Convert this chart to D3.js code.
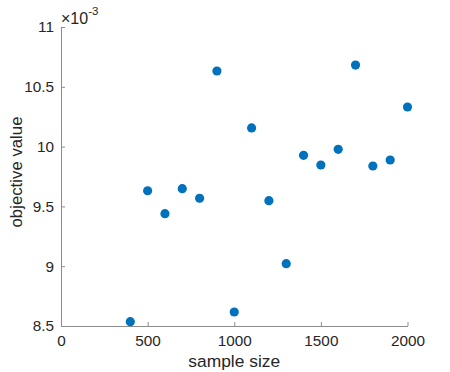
<!DOCTYPE html>
<html><head><meta charset="utf-8">
<script src="https://cdn.jsdelivr.net/npm/d3@7"></script>
<style>body{margin:0;background:#fff;} text{font-family:"Liberation Sans",Arial,Helvetica,sans-serif;fill:#262626;}</style>
</head><body><svg id="c" width="450" height="372"></svg>
<script>
const sampleSize = [400,500,600,700,800,900,1000,1100,1200,1300,1400,1500,1600,1700,1800,1900,2000];
const objectiveValue = [8.536,9.631,9.439,9.648,9.568,10.632,8.617,10.156,9.548,9.021,9.927,9.846,9.977,10.682,9.838,9.888,10.331];
const xTicks = [0,500,1000,1500,2000];
const yTicks = [8.5,9,9.5,10,10.5,11];

const svg = d3.select("#c");
const x = d3.scaleLinear().domain([0,2000]).range([61,407.5]);
const y = d3.scaleLinear().domain([8.5,11]).range([326,27]);
const axisColor = "#8c8c8c";

const xa = svg.append("g").attr("transform","translate(0,326)")
  .call(d3.axisBottom(x).tickValues(xTicks).tickSize(-4).tickPadding(9).tickFormat(d3.format("d")).tickSizeOuter(0));
const ya = svg.append("g").attr("transform","translate(61,0)")
  .call(d3.axisLeft(y).tickValues(yTicks).tickSize(-4).tickPadding(7).tickFormat(d=>String(d)).tickSizeOuter(0));
[xa,ya].forEach(a=>{
  a.selectAll("path.domain").attr("stroke",axisColor);
  a.selectAll(".tick line").attr("stroke",axisColor);
  a.selectAll(".tick text").style("font-size","15.3px").style("font-family","'Liberation Sans',Arial,sans-serif").attr("fill","#262626");
});

svg.append("g").selectAll("circle").data(sampleSize).join("circle")
  .attr("cx",(d)=>x(d)).attr("cy",(d,i)=>y(objectiveValue[i])).attr("r",4.6).attr("fill","#0072BD");

svg.append("text").attr("x",x(1000)).attr("y",366.5).attr("text-anchor","middle").style("font-size","17.4px").text("sample size");
svg.append("text").attr("transform","translate(22,"+172+") rotate(-90)").attr("text-anchor","middle").style("font-size","16.8px").text("objective value");

const mult = svg.append("text").attr("x",61).attr("y",24.3).style("font-size","16px");
mult.append("tspan").text("\u00d710");
mult.append("tspan").attr("dy",-9).style("font-size","11.5px").text("-3");
</script></body></html>
